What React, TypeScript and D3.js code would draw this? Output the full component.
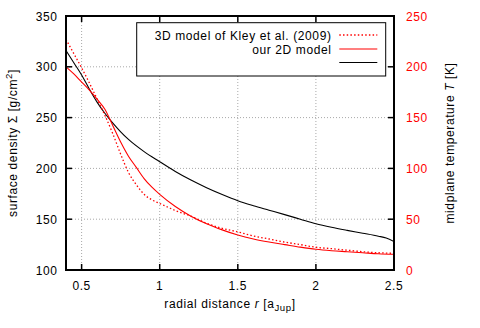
import React from "react";
import * as d3 from "d3";

// radial distance r [a_Jup]
const rKley = [0.4, 0.45, 0.5, 0.55, 0.6, 0.65, 0.7, 0.75, 0.8, 0.85, 0.9, 0.95, 1.0, 1.05, 1.1, 1.2, 1.3, 1.4, 1.5, 1.6, 1.7, 1.8, 1.9, 2.0, 2.1, 2.2, 2.3, 2.4, 2.5];
const sigmaKley = [327, 313, 299, 284, 268, 252, 234, 214, 196, 184, 174.5, 169, 165.5, 162, 158.5, 153, 146, 141, 137.5, 133.5, 130.5, 127.5, 125, 122.4, 121, 119.5, 118, 117, 116.4];

const r2D = [0.4, 0.45, 0.5, 0.55, 0.6, 0.65, 0.7, 0.75, 0.8, 0.85, 0.9, 0.95, 1.0, 1.1, 1.2, 1.3, 1.4, 1.5, 1.6, 1.7, 1.8, 1.9, 2.0, 2.1, 2.2, 2.3, 2.4, 2.5];
const sigma2D = [300, 293, 285, 277, 268, 258, 242, 226, 212, 201, 190, 181.5, 174.5, 162.5, 153, 145.5, 139.5, 134.4, 130.5, 127.5, 125, 122.5, 120.4, 119, 118, 117, 116, 115.5];

const rTemp = [0.4, 0.45, 0.5, 0.55, 0.6, 0.65, 0.7, 0.75, 0.8, 0.9, 1.0, 1.1, 1.2, 1.3, 1.4, 1.5, 1.6, 1.7, 1.8, 1.9, 2.0, 2.1, 2.2, 2.3, 2.4, 2.45, 2.5];
const temp2D = [216, 204, 192, 178, 165, 154, 144.5, 136, 128.5, 116.5, 106.6, 97, 88.5, 81, 74.3, 68.2, 63.3, 58.9, 54.5, 50, 45.5, 42, 39, 36.2, 33.3, 31.5, 28];

const xTicks = [0.5, 1, 1.5, 2, 2.5];
const yLeftTicks = [100, 150, 200, 250, 300, 350];
const yRightTicks = [0, 50, 100, 150, 200, 250];

const legendLabels = ["3D model of Kley et al. (2009)", "our 2D model", ""];

export default function App() {
  const W = 480, H = 328;
  const L = 66, R = 394, T = 16, B = 270;
  const x = d3.scaleLinear().domain([0.4, 2.5]).range([L, R]);
  const yL = d3.scaleLinear().domain([100, 350]).range([B, T]);
  const yR = d3.scaleLinear().domain([0, 250]).range([B, T]);
  const font = "'Liberation Sans', Arial, Helvetica, sans-serif";
  const fs = 12;
  const ls = 0.6;

  const lineL = d3.line<[number, number]>().x(d => x(d[0])).y(d => yL(d[1])).curve(d3.curveMonotoneX);
  const lineR = d3.line<[number, number]>().x(d => x(d[0])).y(d => yR(d[1])).curve(d3.curveMonotoneX);

  const kley = lineL(rKley.map((r, i) => [r, sigmaKley[i]]));
  const ours = lineL(r2D.map((r, i) => [r, sigma2D[i]]));
  const temp = lineR(rTemp.map((r, i) => [r, temp2D[i]]));

  const gridX = xTicks.filter(v => v < 2.5);
  const gridY = yLeftTicks.filter(v => v > 100 && v < 350);
  const tick = 6;

  const legX0 = 136.7, legY0 = 22.7, legX1 = 385.7, legY1 = 76;
  const legRows = [35, 49, 62.5];
  const legStyles = [
    { stroke: "#ff0000", dash: "1.5,2.2" },
    { stroke: "#ff0000", dash: "" },
    { stroke: "#000000", dash: "" },
  ];

  return (
    <svg width={W} height={H} style={{ position: "absolute", left: 0, top: 0, background: "#fff" }} fontFamily={font} letterSpacing={ls}>
      <rect x={0} y={0} width={W} height={H} fill="#fff" />
      {/* grid */}
      <g stroke="#a8a8a8" strokeWidth={1} strokeDasharray="1,2">
        {gridX.map(v => (
          <line key={"gx" + v} x1={x(v)} x2={x(v)} y1={T} y2={B} />
        ))}
        {gridY.map(v => (
          <line key={"gy" + v} x1={L} x2={R} y1={yL(v)} y2={yL(v)} />
        ))}
      </g>
      {/* curves */}
      <clipPath id="clip">
        <rect x={L} y={T} width={R - L} height={B - T} />
      </clipPath>
      <g clipPath="url(#clip)" fill="none">
        <path d={temp || ""} stroke="#000" strokeWidth={1.1} />
        <path d={ours || ""} stroke="#ff0000" strokeWidth={1.1} />
        <path d={kley || ""} stroke="#ff0000" strokeWidth={1.3} strokeDasharray="1.5,2.2" />
      </g>
      {/* legend */}
      <rect x={legX0} y={legY0} width={legX1 - legX0} height={legY1 - legY0} fill="#fff" stroke="#000" strokeWidth={1} />
      {legendLabels.map((lab, i) => (
        <g key={"leg" + i}>
          {lab && (
            <text x={331.5} y={legRows[i] + 4.5} textAnchor="end" fontSize={fs} fill="#000">
              {lab}
            </text>
          )}
          <line x1={339.3} x2={377.3} y1={legRows[i]} y2={legRows[i]} stroke={legStyles[i].stroke}
            strokeWidth={i === 0 ? 1.3 : 1.1} strokeDasharray={legStyles[i].dash || undefined} />
        </g>
      ))}
      {/* ticks */}
      <g stroke="#000" strokeWidth={1.5}>
        {xTicks.map(v => (
          <g key={"xt" + v}>
            <line x1={x(v)} x2={x(v)} y1={B} y2={B - tick} />
            <line x1={x(v)} x2={x(v)} y1={T} y2={T + tick} />
          </g>
        ))}
        {yLeftTicks.map(v => (
          <line key={"yl" + v} x1={L} x2={L + tick} y1={yL(v)} y2={yL(v)} />
        ))}
        {yRightTicks.map(v => (
          <line key={"yr" + v} x1={R} x2={R - tick} y1={yR(v)} y2={yR(v)} />
        ))}
      </g>
      {/* frame */}
      <rect x={L} y={T} width={R - L} height={B - T} fill="none" stroke="#000" strokeWidth={2} />
      {/* tick labels */}
      {xTicks.map(v => (
        <text key={"xl" + v} x={x(v)} y={289.5} textAnchor="middle" fontSize={fs} fill="#000">
          {String(v)}
        </text>
      ))}
      {yLeftTicks.map(v => (
        <text key={"yll" + v} x={57.5} y={yL(v) + 4.5} textAnchor="end" fontSize={fs} fill="#000">
          {String(v)}
        </text>
      ))}
      {yRightTicks.map(v => (
        <text key={"yrl" + v} x={406} y={yR(v) + 4.5} textAnchor="start" fontSize={fs} fill="#ff0000">
          {String(v)}
        </text>
      ))}
      {/* axis titles */}
      <text x={(L + R) / 2} y={307.5} textAnchor="middle" fontSize={fs} fill="#000">
        radial distance <tspan fontStyle="italic">r</tspan> [a<tspan fontSize={fs * 0.8} dy={3}>Jup</tspan><tspan dy={-3}>]</tspan>
      </text>
      <text transform={`translate(16.5,${(T + B) / 2}) rotate(-90)`} textAnchor="middle" fontSize={fs} fill="#000">
        surface density Σ [g/cm<tspan fontSize={fs * 0.8} dy={-5}>2</tspan><tspan dy={5}>]</tspan>
      </text>
      <text transform={`translate(454,${(T + B) / 2}) rotate(-90)`} textAnchor="middle" fontSize={fs} fill="#000">
        midplane temperature <tspan fontStyle="italic">T</tspan> [K]
      </text>
    </svg>
  );
}
